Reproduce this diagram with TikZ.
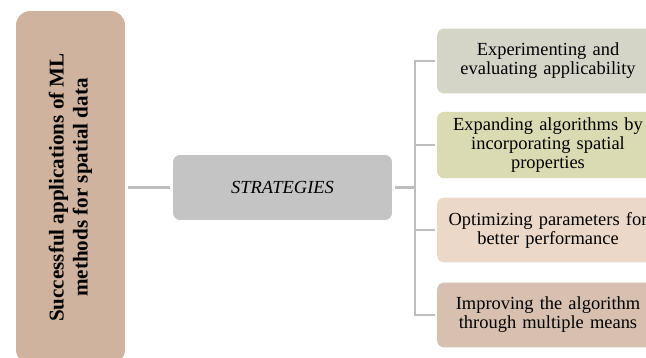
\documentclass[tikz,border=0pt]{standalone}
\usepackage{fontspec}
\setmainfont{Liberation Serif}
\usetikzlibrary{positioning}

\definecolor{rootfill}{HTML}{CFB39E}
\definecolor{midfill}{HTML}{C4C4C4}
\definecolor{leafA}{HTML}{D4D4C7}
\definecolor{leafB}{HTML}{DBDBB3}
\definecolor{leafC}{HTML}{ECD8C8}
\definecolor{leafD}{HTML}{D7C0AF}
\definecolor{linkgray}{HTML}{BEBEBE}

\begin{document}
\begin{tikzpicture}[x=0.02cm, y=-0.02cm,
    every node/.style={rounded corners=4pt, outer sep=1.5pt, align=center},
    leaf/.style={minimum width=4.4cm, minimum height=1.3cm, text width=4.2cm,
        font=\fontsize{10.5}{10.8}\selectfont},
    link/.style={draw=linkgray, line width=1.6pt}]
    \clip (0,0) rectangle (646,358);

    % Root and middle node
    \node (root) at (70.5,187.5) [fill=rootfill, rounded corners=8pt, rotate=90,
        minimum width=7.06cm, minimum height=2.18cm,
        font=\fontsize{12}{13.6}\selectfont\bfseries]
        {Successful applications of ML\\ methods for spatial data};
    \node (strat) at (282.5,187.5) [fill=midfill, minimum width=4.38cm, minimum height=1.3cm,
        font=\fontsize{10.5}{12}\selectfont\itshape] {STRATEGIES};

    % Strategy leaves
    \node (s1) at (548,61) [leaf, fill=leafA] {Experimenting and\\ evaluating applicability};
    \node (s2) at (548,145) [leaf, fill=leafB] {Expanding algorithms by\\ incorporating spatial\\ properties};
    \node (s3) at (548,230) [leaf, fill=leafC] {Optimizing parameters for\\ better performance};
    \node (s4) at (548,315) [leaf, fill=leafD] {Improving the algorithm\\ through multiple means};

    % Connectors
    \coordinate (trunk) at (415,187.5);
    \draw[link] (root) -- (strat);
    \draw[link] (strat) -- (trunk);
    \draw[link] (trunk) |- (s1);
    \draw[link] (trunk) |- (s2);
    \draw[link] (trunk) |- (s3);
    \draw[link] (trunk) |- (s4);

\end{tikzpicture}
\end{document}
